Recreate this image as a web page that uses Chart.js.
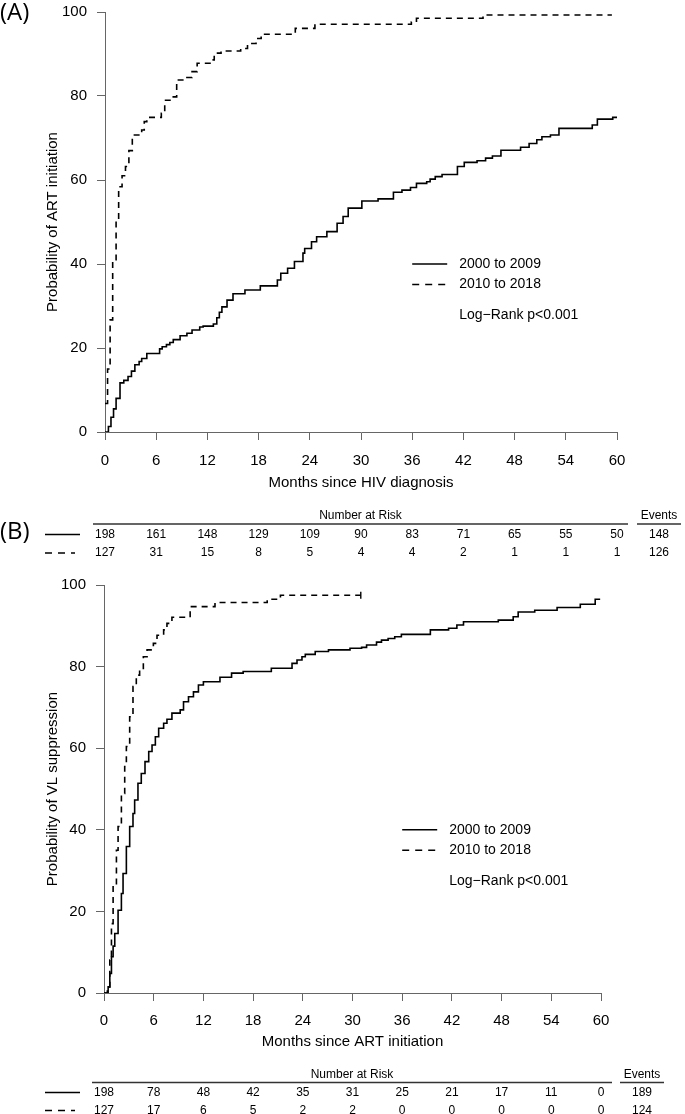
<!DOCTYPE html>
<html>
<head>
<meta charset="utf-8">
<script src="https://cdn.jsdelivr.net/npm/chart.js@4.4.1/dist/chart.umd.min.js"></script>
<style>
  body { margin: 0; background: #fff; }
  canvas { display: block; }
</style>
</head>
<body>
<canvas id="panel-a" width="685" height="565"></canvas>
<canvas id="panel-b" width="685" height="549"></canvas>
<script>
const tickMonths = [0, 6, 12, 18, 24, 30, 36, 42, 48, 54, 60];
const groups = ["2000 to 2009", "2010 to 2018"];

// (A) ART initiation, Kaplan-Meier steps (month, %)
const artOldT = [0, 0.4, 0.7, 1.0, 1.3, 1.76, 2.2, 2.7, 3.1, 3.5, 4.0, 4.3, 4.9, 6.4, 6.7, 7.2, 7.6, 8.0, 8.8, 9.6, 10.2, 11.1, 11.5, 12.7, 13.1, 13.4, 13.7, 14.3, 15.0, 16.4, 18.2, 20.2, 20.6, 21.4, 22.2, 23.2, 23.4, 24.2, 24.8, 26.0, 27.2, 27.9, 28.5, 30.1, 32.0, 33.8, 34.8, 35.8, 36.5, 37.7, 38.1, 38.7, 39.5, 41.3, 42.1, 43.6, 44.6, 45.4, 46.4, 48.7, 49.7, 50.6, 51.2, 52.2, 53.2, 57.1, 57.7, 59.5, 60];
const artOldV = [0, 1.3, 3.5, 5.5, 8, 11.7, 12.3, 13.2, 14.5, 16, 16.8, 17.5, 18.7, 19.8, 20.3, 20.8, 21.3, 22, 22.9, 23.5, 24.3, 25, 25.2, 25.7, 27.2, 28.5, 29.8, 31.4, 32.9, 33.8, 34.8, 36.2, 37.8, 39, 40.6, 42.6, 43.7, 45.3, 46.5, 47.7, 49.7, 51.3, 53.3, 55, 55.5, 57.1, 57.6, 58.2, 59.2, 59.6, 60.2, 60.8, 61.3, 63.2, 64.2, 64.6, 65.2, 65.7, 67.1, 67.8, 68.7, 69.6, 70.3, 70.7, 72.3, 73.1, 74.5, 74.9, 74.9];
const artNewT = [0, 0.3, 0.6, 0.9, 1.3, 1.6, 2.0, 2.4, 2.8, 3.2, 4.3, 4.6, 4.9, 6.6, 7.0, 8.0, 8.4, 9.6, 10.2, 10.8, 12.4, 12.8, 13.6, 15.9, 16.7, 17.7, 18.3, 22.3, 24.6, 35.9, 36.5, 44.3, 59.4];
const artNewV = [6.8, 15, 26.7, 41, 50.5, 58.4, 61, 63.2, 67, 70.7, 71.9, 73.9, 74.9, 75.9, 79, 79.8, 83.8, 84.4, 85.8, 87.8, 88.6, 90.2, 90.7, 91.3, 92.5, 93.7, 94.7, 96.1, 97.1, 97.6, 98.5, 99.3, 99.3];
const riskA = [[198, 161, 148, 129, 109, 90, 83, 71, 65, 55, 50], [127, 31, 15, 8, 5, 4, 4, 2, 1, 1, 1]];
const eventsA = [148, 126];

// (B) VL suppression
const vlOldT = [0, 0.5, 0.7, 0.9, 1.1, 1.3, 1.7, 2.1, 2.3, 2.7, 3.1, 3.5, 3.7, 4.1, 4.5, 4.95, 5.4, 5.8, 6.2, 6.6, 7.2, 7.6, 8.2, 9.2, 9.6, 10.2, 10.8, 11.4, 12.0, 14.0, 15.4, 16.8, 20.2, 22.7, 23.3, 23.9, 24.3, 25.5, 27.1, 29.7, 31.1, 31.7, 32.9, 33.5, 34.3, 35.1, 35.9, 39.4, 41.6, 42.6, 43.4, 47.6, 49.4, 50.0, 52.0, 54.7, 57.5, 59.3, 59.9];
const vlOldV = [0, 1.5, 4.8, 8.9, 11.5, 14.6, 20.3, 24.4, 29.3, 35.9, 40.8, 44, 47.3, 51.4, 53.8, 56.7, 59.2, 60.8, 62.8, 64.9, 66.1, 67.1, 68.6, 69.4, 71.4, 72.6, 73.8, 75.5, 76.3, 77.4, 78.4, 78.8, 79.6, 80.8, 81.6, 82.4, 83, 83.7, 84.1, 84.5, 84.7, 85.3, 86, 86.5, 86.9, 87.3, 87.9, 89, 89.4, 90.2, 91, 91.4, 92.2, 93.4, 93.8, 94.5, 95.3, 96.5, 96.5];
const vlNewT = [0, 0.4, 0.7, 0.9, 1.1, 1.5, 1.7, 2.1, 2.5, 2.7, 3.1, 3.5, 3.9, 4.3, 4.75, 5.2, 5.96, 6.4, 7.2, 7.6, 8.2, 10.4, 13.4, 19.7, 21.3, 31];
const vlNewV = [0, 1, 8.1, 17, 26, 35, 40.8, 48.9, 55.5, 60.4, 67.7, 75.1, 77.9, 79.2, 82.4, 84.1, 85.7, 87.7, 89, 90.6, 92.1, 94.7, 95.7, 96.5, 97.5, 97.5];
const riskB = [[198, 78, 48, 42, 35, 31, 25, 21, 17, 11, 0], [127, 17, 6, 5, 2, 2, 0, 0, 0, 0, 0]];
const eventsB = [189, 124];

const FONT = "'Liberation Sans', Arial, sans-serif";
const AXIS_GREY = "#666";
const CURVE_DASH = [6, 5];
const KEY_DASH = [7, 6];

function pts(t, v) {
  return t.map((x, i) => ({ x: x, y: v[i] }));
}

function drawKey(ctx, x1, x2, y, dashed) {
  ctx.save();
  ctx.strokeStyle = "#000";
  ctx.lineWidth = 1.5;
  ctx.setLineDash(dashed ? KEY_DASH : []);
  ctx.beginPath();
  ctx.moveTo(x1, y);
  ctx.lineTo(x2, y);
  ctx.stroke();
  ctx.restore();
}

// legend + risk table + panel letters
function extras(o) {
  return {
    id: "extras",
    afterDraw(chart) {
      const ctx = chart.ctx;
      const xs = chart.scales.x, ys = chart.scales.y;
      ctx.save();
      ctx.fillStyle = "#000";
      ctx.textBaseline = "middle";

      // legend inside plot
      const lx = xs.getPixelForValue(36);
      const ly = ys.getPixelForValue(40);
      drawKey(ctx, lx, lx + 35, ly, false);
      drawKey(ctx, lx, lx + 35, ly + 20.5, true);
      ctx.font = "14px " + FONT;
      ctx.textAlign = "left";
      ctx.fillText(groups[0], lx + 47, ly);
      ctx.fillText(groups[1], lx + 47, ly + 20.5);
      ctx.fillText("Log\u2212Rank p<0.001", lx + 47, ly + 51);

      // number at risk table
      const x0 = xs.getPixelForValue(0), x60 = xs.getPixelForValue(60);
      const ev = x60 + o.evOff;
      ctx.font = "12px " + FONT;
      ctx.textAlign = "center";
      ctx.fillText("Number at Risk", (x0 - 12 + x60 + 11) / 2, o.headY);
      ctx.fillText("Events", ev, o.headY);
      ctx.strokeStyle = "#333";
      ctx.lineWidth = 1.5;
      ctx.beginPath();
      ctx.moveTo(x0 - 12, o.headY + 8); ctx.lineTo(x60 + 11, o.headY + 8);
      ctx.moveTo(ev - 22, o.headY + 8); ctx.lineTo(ev + 22, o.headY + 8);
      ctx.stroke();
      o.risk.forEach((row, r) => {
        const y = o.rowY[r];
        drawKey(ctx, 45, r ? 75 : 80, y, r === 1);
        row.forEach((n, i) => ctx.fillText(String(n), xs.getPixelForValue(tickMonths[i]), y));
        ctx.fillText(String(o.events[r]), ev, y);
      });

      // panel letters
      ctx.font = "24px 'Open Sans', sans-serif";
      ctx.textAlign = "left";
      o.letters.forEach(l => ctx.fillText(l[0], 0, l[1]));
      ctx.restore();
    }
  };
}

function makeChart(id, dataOld, dataNew, yTitle, xTitle, lay) {
  const censor = dataNew.map((p, i) => (lay.censorEnd && i === dataNew.length - 1) ? 3.5 : 0);
  return new Chart(document.getElementById(id), {
    type: "line",
    data: {
      datasets: [
        { label: groups[0], data: dataOld, borderColor: "#000", borderWidth: 1.6, stepped: "before", pointRadius: 0, fill: false },
        { label: groups[1], data: dataNew, borderColor: "#000", borderWidth: 1.6, borderDash: CURVE_DASH, stepped: "before",
          pointRadius: censor, pointStyle: "line", rotation: 90, pointBorderColor: "#000", pointBorderWidth: 1.4, fill: false }
      ]
    },
    options: {
      responsive: false,
      animation: false,
      devicePixelRatio: 1,
      layout: { padding: { left: 44, right: lay.right, top: lay.top, bottom: lay.bottom } },
      plugins: { legend: { display: false }, tooltip: { enabled: false } },
      scales: {
        x: {
          type: "linear", min: 0, max: 60,
          afterBuildTicks: s => { s.ticks = tickMonths.map(v => ({ value: v })); },
          afterFit: s => { s.height = lay.xh; },
          grid: { drawOnChartArea: false, drawTicks: true, tickLength: 8, color: AXIS_GREY },
          border: { color: AXIS_GREY, width: 1 },
          ticks: { color: "#000", font: { family: FONT, size: 15 }, padding: lay.xpad, maxRotation: 0 },
          title: { display: true, text: xTitle, color: "#000", font: { family: FONT, size: 15 }, padding: 0 }
        },
        y: {
          min: 0, max: 100,
          ticks: { stepSize: 20, color: "#000", font: { family: FONT, size: 15 }, padding: 10 },
          afterFit: s => { s.width = lay.yw; s.paddingTop = 0; s.paddingBottom = 0; },
          grid: { drawOnChartArea: false, drawTicks: true, tickLength: 8, color: AXIS_GREY },
          border: { color: AXIS_GREY, width: 1 },
          title: { display: true, text: yTitle, color: "#000", font: { family: FONT, size: 15 }, padding: 0 }
        }
      }
    },
    plugins: [extras(lay.table)]
  });
}

makeChart("panel-a", pts(artOldT, artOldV), pts(artNewT, artNewV),
  "Probability of ART initiation", "Months since HIV diagnosis",
  { right: 68, top: 12, bottom: 73, xh: 60, xpad: 12, yw: 61, censorEnd: false,
    table: { headY: 516, rowY: [534.5, 553], risk: riskA, events: eventsA, evOff: 42,
             letters: [["(A)", 13], ["(B)", 532]] } });

makeChart("panel-b", pts(vlOldT, vlOldV), pts(vlNewT, vlNewV),
  "Probability of VL suppression", "Months since ART initiation",
  { right: 84, top: 20, bottom: 63, xh: 58, xpad: 11, yw: 60, censorEnd: true,
    table: { headY: 509.5, rowY: [527.5, 545.5], risk: riskB, events: eventsB, evOff: 41,
             letters: [] } });
</script>
</body>
</html>
